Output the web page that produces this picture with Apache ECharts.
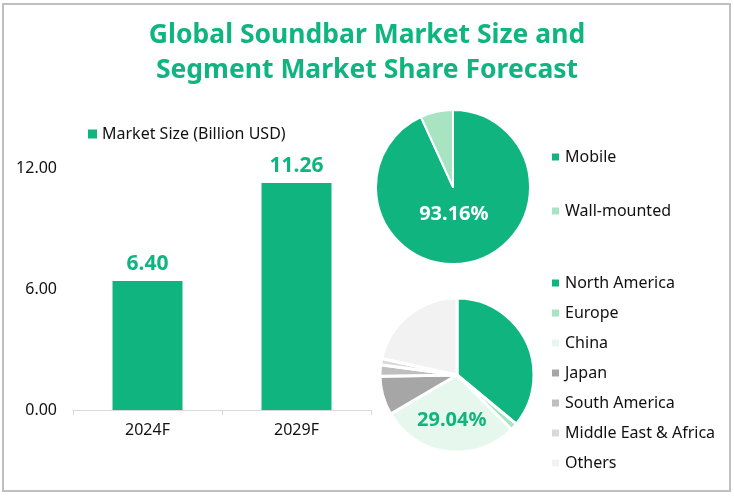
<!DOCTYPE html>
<html>
<head>
<meta charset="utf-8">
<script src="https://cdn.jsdelivr.net/npm/echarts@6/dist/echarts.min.js"></script>
<style>html,body{margin:0;padding:0;background:#fff;}#c{width:734px;height:496px;}</style>
</head>
<body>
<div id="c"></div>
<script>
const titleText = 'Global Soundbar Market Size and\nSegment Market Share Forecast';
const years = ['2024F', '2029F'];
const marketSize = [6.40, 11.26];
const yTicks = [0, 6, 12];
const typeNames = ['Mobile', 'Wall-mounted'];
const typeShares = [93.16, 6.84];
const regionNames = ['North America', 'Europe', 'China', 'Japan', 'South America', 'Middle East & Africa', 'Others'];
const regionShares = [36.0, 1.5, 29.04, 8.2, 2.4, 1.3, 21.56];

const GREEN = '#10b47e';
const typeColors = [GREEN, '#a8e3c2'];
const regionColors = [GREEN, '#a8e3c2', '#e6f7ee', '#a6a6a6', '#bfbfbf', '#d9d9d9', '#f2f2f2'];
const FONT = '"Noto Sans", "Open Sans", sans-serif';

const chart = echarts.init(document.getElementById('c'));
chart.setOption({
  animation: false,
  textStyle: { fontFamily: FONT },
  title: {
    text: titleText,
    left: 'center', top: 13,
    textStyle: { color: GREEN, fontSize: 26.5, fontWeight: 'bold', lineHeight: 35, fontFamily: FONT }
  },
  graphic: [{
    type: 'rect', silent: true,
    shape: { x: 3, y: 4, width: 727, height: 487 },
    style: { fill: 'none', stroke: '#bfbfbf', lineWidth: 2 }
  }],
  legend: [
    {
      data: ['Market Size (Billion USD)'],
      left: 83, top: 121, itemWidth: 9, itemHeight: 9, itemGap: 10,
      icon: 'rect',
      textStyle: { fontSize: 16, color: '#111' }
    },
    {
      data: typeNames, orient: 'vertical',
      left: 545, top: 144, itemWidth: 9, itemHeight: 9, itemGap: 38,
      icon: 'rect',
      textStyle: { fontSize: 16, color: '#111' }
    },
    {
      data: regionNames, orient: 'vertical',
      left: 545, top: 270, itemWidth: 9, itemHeight: 9, itemGap: 14,
      icon: 'rect',
      textStyle: { fontSize: 16, color: '#111' }
    }
  ],
  grid: { left: 73, right: 363, top: 168, bottom: 86, containLabel: false },
  xAxis: {
    type: 'category', data: years,
    axisLine: { lineStyle: { color: '#d9d9d9' } },
    axisTick: { show: true, lineStyle: { color: '#d9d9d9' } },
    axisLabel: { fontSize: 16, color: '#111', margin: 12 }
  },
  yAxis: {
    type: 'value', min: yTicks[0], max: yTicks[yTicks.length - 1], interval: yTicks[1] - yTicks[0],
    splitLine: { show: false }, axisLine: { show: false }, axisTick: { show: false },
    axisLabel: { fontSize: 16, color: '#111', margin: 16, formatter: v => v.toFixed(2) }
  },
  series: [
    {
      name: 'Market Size (Billion USD)', type: 'bar', data: marketSize,
      barWidth: 70, itemStyle: { color: GREEN },
      label: { show: true, position: 'top', distance: 6, color: GREEN, fontSize: 21, fontWeight: 'bold', formatter: p => p.value.toFixed(2) }
    },
    {
      type: 'pie', center: [453, 187], radius: 77, startAngle: 90, clockwise: true,
      data: typeNames.map((n, i) => ({ name: n, value: typeShares[i], itemStyle: { color: typeColors[i] },
        label: i === 0 ? { show: true } : { show: false } })),
      itemStyle: { borderColor: '#fff', borderWidth: 2 },
      label: { position: 'inside', color: '#fff', fontSize: 20, fontWeight: 'bold', offset: [-8, -13], formatter: p => p.value.toFixed(2) + '%' },
      labelLine: { show: false }, emphasis: { disabled: true }
    },
    {
      type: 'pie', center: [457, 375], radius: 77, startAngle: 90, clockwise: true,
      data: regionNames.map((n, i) => ({ name: n, value: regionShares[i], itemStyle: { color: regionColors[i] },
        label: i === 2 ? { show: true } : { show: false } })),
      itemStyle: { borderColor: '#fff', borderWidth: 3 },
      label: { position: 'inside', color: GREEN, fontSize: 20, fontWeight: 'bold', offset: [0, 4], formatter: p => p.value.toFixed(2) + '%' },
      labelLine: { show: false }, emphasis: { disabled: true }
    }
  ]
});
</script>
</body>
</html>
